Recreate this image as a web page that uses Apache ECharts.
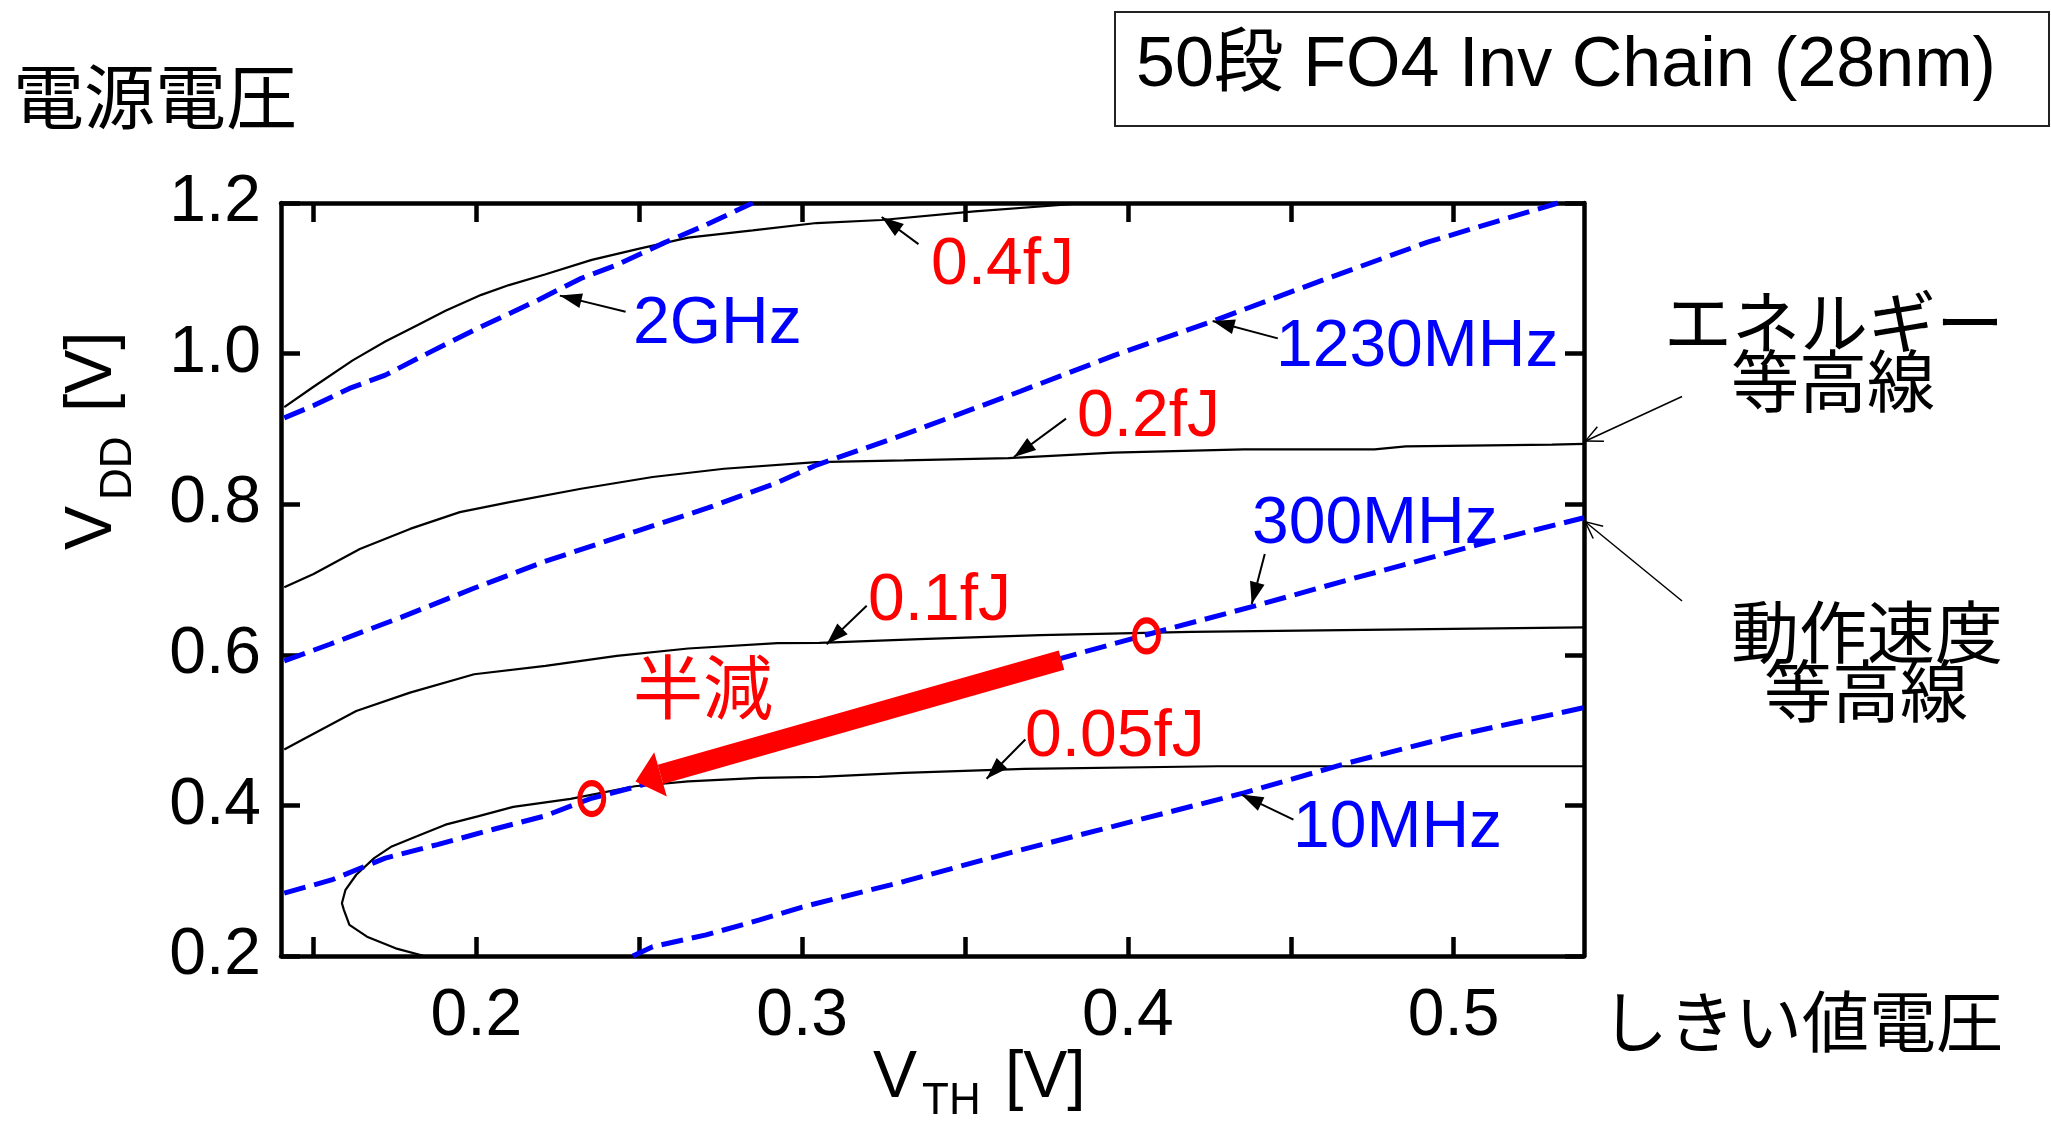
<!DOCTYPE html>
<html>
<head>
<meta charset="utf-8">
<script src="https://cdn.jsdelivr.net/npm/echarts@6/dist/echarts.min.js"></script>
<style>html,body{margin:0;padding:0;background:#fff;}#c{width:2051px;height:1123px;}</style>
</head>
<body>
<div id="c"></div>
<script>
// ---- tick values ----
const xTickValues = [0.15, 0.2, 0.25, 0.3, 0.35, 0.4, 0.45, 0.5];
const xLabelValues = [0.2, 0.3, 0.4, 0.5];

// ---- energy contours (black, solid) [VTH, VDD] ----
const energy04 = [[0.141,0.929],[0.150,0.956],[0.162,0.991],[0.172,1.016],[0.182,1.038],[0.1905,1.057],[0.2015,1.078],[0.210,1.091],[0.221,1.105],[0.2354,1.1245],[0.2497,1.139],[0.265,1.154],[0.2848,1.1636],[0.3044,1.1734],[0.3244,1.1774],[0.3529,1.189],[0.3833,1.1987],[0.3955,1.2]];
const energy02 = [[0.141,0.6896],[0.150,0.7073],[0.1642,0.7406],[0.1796,0.7672],[0.1949,0.7895],[0.2102,0.8028],[0.2321,0.8205],[0.2541,0.8361],[0.2760,0.8471],[0.3044,0.856],[0.3313,0.8582],[0.3633,0.8613],[0.3955,0.8684],[0.4356,0.8728],[0.4757,0.8728],[0.4853,0.8768],[0.5302,0.8791],[0.54,0.88]];
const energy01 = [[0.141,0.4743],[0.1467,0.4876],[0.1631,0.5253],[0.1796,0.5498],[0.1993,0.5742],[0.2212,0.5852],[0.2431,0.5986],[0.265,0.6084],[0.2924,0.6154],[0.3053,0.6158],[0.3361,0.6207],[0.373,0.6261],[0.4194,0.6305],[0.4725,0.6331],[0.54,0.6363]];
const energy005 = [[0.184,0.2],[0.1752,0.2102],[0.1664,0.2257],[0.161,0.2413],[0.1593,0.2613],[0.1587,0.27],[0.1598,0.2879],[0.1631,0.3079],[0.1686,0.33],[0.174,0.3455],[0.1817,0.3589],[0.1905,0.3744],[0.2004,0.3855],[0.2113,0.398],[0.2289,0.4087],[0.2486,0.4254],[0.265,0.432],[0.2869,0.4366],[0.3053,0.4379],[0.3313,0.4433],[0.3682,0.4486],[0.4275,0.452],[0.54,0.452]];

// ---- speed contours (blue, dashed) ----
const freq2G = [[0.141,0.9147],[0.150,0.931],[0.161,0.9537],[0.172,0.9714],[0.185,1.0003],[0.1993,1.0313],[0.219,1.0713],[0.2322,1.1001],[0.2431,1.1178],[0.2574,1.1467],[0.2705,1.171],[0.2848,1.2]];
const freq1230M = [[0.141,0.592],[0.155,0.614],[0.177,0.650],[0.199,0.688],[0.221,0.724],[0.249,0.764],[0.271,0.795],[0.292,0.828],[0.3044,0.852],[0.331,0.892],[0.367,0.950],[0.396,0.998],[0.426,1.043],[0.460,1.098],[0.492,1.148],[0.532,1.2]];
const freq300M = [[0.141,0.2835],[0.1555,0.301],[0.172,0.33],[0.188,0.348],[0.205,0.368],[0.221,0.386],[0.235,0.409],[0.25,0.426],[0.28,0.466],[0.31,0.505],[0.34,0.545],[0.38,0.596],[0.406,0.627],[0.439,0.665],[0.468,0.700],[0.492,0.728],[0.515,0.755],[0.54,0.782]];
const freq10M = [[0.248,0.2],[0.2541,0.2124],[0.2705,0.228],[0.2869,0.2479],[0.300,0.265],[0.3313,0.299],[0.3634,0.3367],[0.3955,0.3722],[0.4356,0.4166],[0.4677,0.4566],[0.4998,0.492],[0.54,0.5298]];

// ---- operating points (red circles) ----
const opPoints = [[0.2354,0.409],[0.4057,0.625]];

// ---- "半減" arrow: tail -> head base ----
const halfArrow = [[0.3796,0.5928],[0.2565,0.4412]];

// ---- label arrows: [tail, tip] ----
const labelArrows = [
  [[0.3357,1.1454],[0.3244,1.1814]],  // 0.4fJ
  [[0.2458,1.0557],[0.2256,1.0770]],  // 2GHz
  [[0.446,1.0202],[0.426,1.0433]],    // 1230MHz
  [[0.381,0.9137],[0.365,0.8627]],    // 0.2fJ
  [[0.442,0.734],[0.438,0.6674]],     // 300MHz
  [[0.3198,0.6651],[0.3075,0.6141]],  // 0.1fJ
  [[0.3685,0.4876],[0.3566,0.4353]],  // 0.05fJ
  [[0.4508,0.3811],[0.4348,0.4144]]   // 10MHz
];
const sideArrows = [
  [[0.5701,0.943],[0.54,0.883]],      // エネルギー等高線
  [[0.5701,0.6714],[0.54,0.778]]      // 動作速度等高線
];

const LAT = '"Liberation Sans", Arial, sans-serif';
const CJK = '"Noto Sans CJK JP", sans-serif';
const RED = '#ff0000', BLUE = '#0000ff';

const chart = echarts.init(document.getElementById('c'), null, {renderer: 'canvas', width: 2051, height: 1123});

const axisLineStyle = {show: true, onZero: false, lineStyle: {color: '#000', width: 4.5}};
const tickStyle = {show: true, inside: true, length: 19, lineStyle: {color: '#000', width: 4.5}};

function blackLine(d) {
  return {type: 'line', data: d, symbol: 'none', clip: true, z: 2,
    lineStyle: {color: '#000', width: 2.2}, animation: false};
}
function blueLine(d) {
  return {type: 'line', data: d, symbol: 'none', clip: true, z: 3,
    lineStyle: {color: BLUE, width: 5, type: [22, 9]}, animation: false};
}
function txt(text, x, y, color, font, align) {
  return {type: 'text', x: x, y: y, z: 100,
    style: {text: text, fill: color, font: font, textAlign: align || 'left', textVerticalAlign: 'middle'}};
}

const option = {
  backgroundColor: '#fff',
  animation: false,
  grid: {left: 281, right: 467, top: 203, bottom: 167, containLabel: false, outerBoundsMode: 'none'},
  xAxis: [
    {type: 'value', min: 0.14, max: 0.54, position: 'bottom', axisLine: axisLineStyle,
     axisTick: Object.assign({customValues: xTickValues}, tickStyle),
     axisLabel: {customValues: xLabelValues, formatter: v => v.toFixed(1), fontSize: 66, color: '#000', fontFamily: LAT, margin: 28},
     splitLine: {show: false}},
    {type: 'value', min: 0.14, max: 0.54, position: 'top', axisLine: axisLineStyle,
     axisTick: Object.assign({customValues: xTickValues}, tickStyle),
     axisLabel: {show: false}, splitLine: {show: false}}
  ],
  yAxis: [
    {type: 'value', min: 0.2, max: 1.2, interval: 0.2, position: 'left', axisLine: axisLineStyle,
     axisTick: tickStyle,
     axisLabel: {formatter: v => v.toFixed(1), fontSize: 66, color: '#000', fontFamily: LAT, margin: 20, showMinLabel: true, showMaxLabel: true},
     splitLine: {show: false}},
    {type: 'value', min: 0.2, max: 1.2, interval: 0.2, position: 'right', axisLine: axisLineStyle,
     axisTick: tickStyle, axisLabel: {show: false}, splitLine: {show: false}}
  ],
  series: [
    blackLine(energy04), blackLine(energy02), blackLine(energy01), blackLine(energy005),
    blueLine(freq2G), blueLine(freq1230M), blueLine(freq300M), blueLine(freq10M),
    {type: 'lines', coordinateSystem: 'cartesian2d', clip: false, z: 5,
     data: [{coords: halfArrow}],
     lineStyle: {color: RED, width: 20, opacity: 1, curveness: 0, cap: 'butt'},
     symbol: ['none', 'path://M0,0 L23,26 L-23,26 Z M0,52 L0.01,52 Z'],
     symbolSize: [1, [46, 52]], animation: false},
    {type: 'scatter', data: opPoints, symbol: 'circle', symbolSize: [24, 31], z: 6,
     itemStyle: {color: 'rgba(0,0,0,0)', borderColor: RED, borderWidth: 5.5, opacity: 1}, animation: false},
    {type: 'lines', coordinateSystem: 'cartesian2d', clip: false, z: 7,
     data: labelArrows.map(a => ({coords: a})),
     lineStyle: {color: '#000', width: 2, opacity: 1, curveness: 0},
     symbol: ['none', 'path://M0,-22 L0.01,-22 Z M0,0 L7.5,22 L-7.5,22 Z'],
     symbolSize: [1, [15, 44]], animation: false},
    {type: 'lines', coordinateSystem: 'cartesian2d', clip: false, z: 7,
     data: sideArrows.map(a => ({coords: a})),
     lineStyle: {color: '#000', width: 1.5, opacity: 1, curveness: 0},
     symbol: ['none', 'path://M0,-18.7 L0.01,-18.7 Z M0,0 L8.6,18 L7.2,18.7 L0,3.2 L-7.2,18.7 L-8.6,18 Z'],
     symbolSize: [1, [17.2, 37.4]], animation: false}
  ],
  graphic: [
    // title box
    {type: 'rect', z: 99, shape: {x: 1115, y: 12, width: 934, height: 114},
     style: {fill: '#fff', stroke: '#222', lineWidth: 2}},
    txt('50段 FO4 Inv Chain (28nm)', 1136, 67, '#000', '70px "Liberation Sans", "Noto Sans CJK JP", sans-serif'),
    txt('電源電圧', 13, 96, '#000', '71px ' + CJK),
    // contour labels
    txt('0.4fJ', 931, 266, RED, '66px ' + LAT),
    txt('2GHz', 633, 325, BLUE, '66px ' + LAT),
    txt('1230MHz', 1276, 348, BLUE, '66px ' + LAT),
    txt('0.2fJ', 1077, 418, RED, '66px ' + LAT),
    txt('300MHz', 1252, 525, BLUE, '66px ' + LAT),
    txt('0.1fJ', 868, 602, RED, '66px ' + LAT),
    txt('0.05fJ', 1025, 738, RED, '66px ' + LAT),
    txt('10MHz', 1293, 829, BLUE, '66px ' + LAT),
    txt('半減', 633, 687, RED, '70px ' + CJK),
    // side notes
    txt('エネルギー', 1834, 322, '#000', '68px ' + CJK, 'center'),
    txt('等高線', 1833, 381, '#000', '68px ' + CJK, 'center'),
    txt('動作速度', 1867, 632, '#000', '68px ' + CJK, 'center'),
    txt('等高線', 1866, 691, '#000', '68px ' + CJK, 'center'),
    txt('しきい値電圧', 1802, 1022, '#000', '67px ' + CJK, 'center'),
    // x axis name
    txt('V', 873, 1079, '#000', '66px ' + LAT),
    txt('TH', 922, 1102, '#000', '44px ' + LAT),
    txt('[V]', 1005, 1079, '#000', '66px ' + LAT),
    // y axis name (rotated)
    {type: 'group', x: 93, y: 550, rotation: Math.PI / 2, z: 100, children: [
      txt('V', 0, 0, '#000', '66px ' + LAT),
      txt('DD', 50, 26, '#000', '44px ' + LAT),
      txt('[V]', 138, 0, '#000', '66px ' + LAT)
    ]}
  ]
};
chart.setOption(option);
</script>
</body>
</html>
